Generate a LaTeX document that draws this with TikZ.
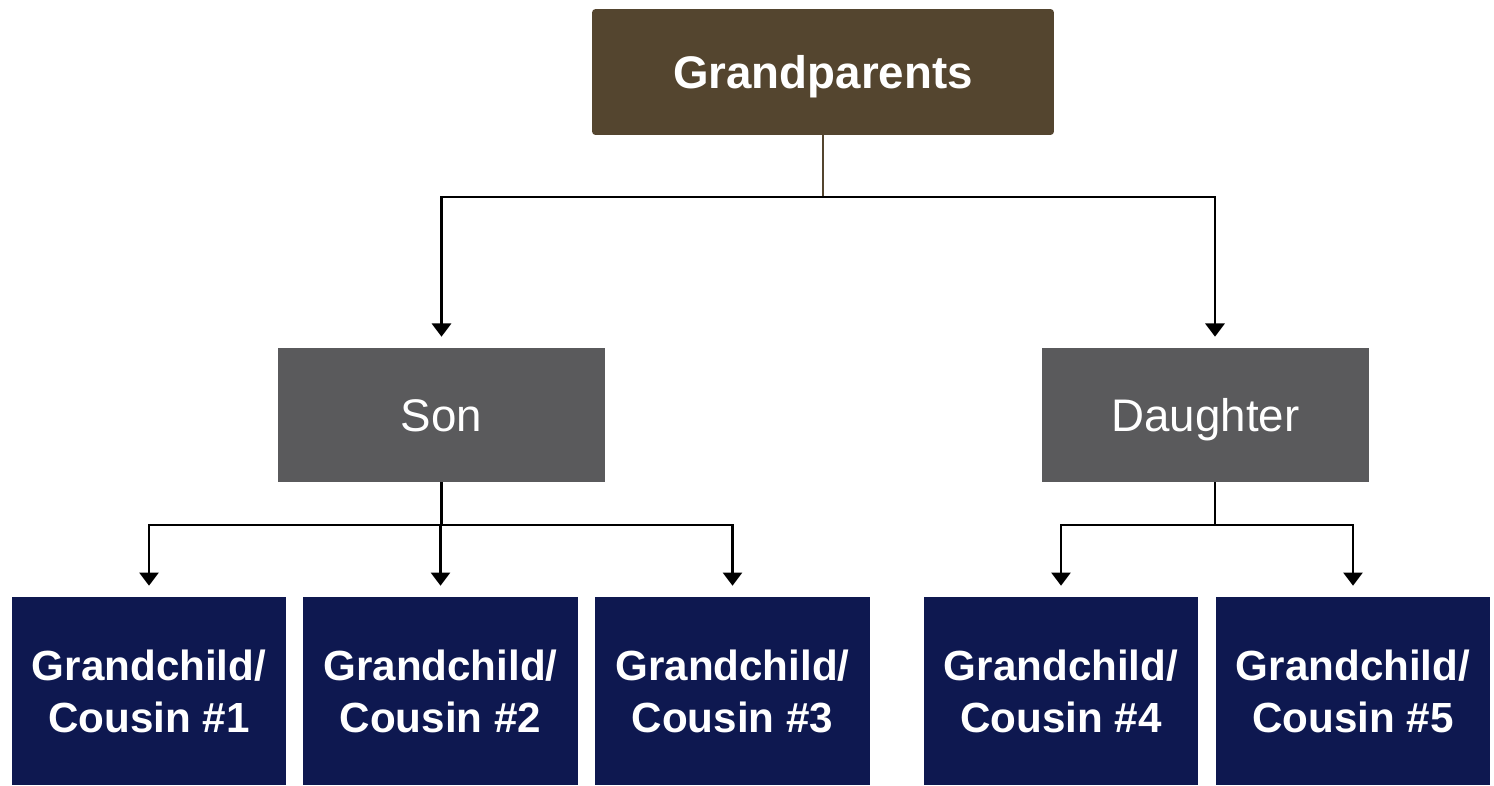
\documentclass[tikz,border=0pt]{standalone}
\usepackage{fontspec}
\setmainfont{Liberation Sans}
\usetikzlibrary{arrows.meta,calc,positioning}

\definecolor{gpbrown}{HTML}{54452F}
\definecolor{parentgray}{HTML}{5A5A5C}
\definecolor{kidnavy}{HTML}{0E1850}

\begin{document}
\begin{tikzpicture}[
      x=0.02cm, y=-0.02cm,
      gen1/.style={
          rectangle,
          rounded corners=2pt,
          fill=gpbrown,
          text=white,
          minimum width=9.24cm,
          minimum height=2.52cm,
          text height=18.7pt,
          text depth=0pt,
          font=\fontsize{26}{30}\selectfont\bfseries
        },
      gen2/.style={
          rectangle,
          fill=parentgray,
          text=white,
          minimum width=6.54cm,
          minimum height=2.68cm,
          text height=18.7pt,
          text depth=0pt,
          font=\fontsize{26}{30}\selectfont
        },
      gen3/.style={
          rectangle,
          fill=kidnavy,
          text=white,
          minimum width=5.5cm,
          minimum height=3.76cm,
          align=center,
          font=\fontsize{24}{29.6}\selectfont\bfseries
        },
      link/.style={line width=1.15pt, black},
      >={Triangle[width=11pt,length=7.5pt]}
    ]
    \useasboundingbox (0,0) rectangle (1494,785);

    % Explicit positions
    \node[gen1] at (823,72)     (gp)  {Grandparents};
    \node[gen2] at (441.5,415)  (son) {Son};
    \node[gen2] at (1205.5,415) (dau) {Daughter};
    \node[gen3] at (149,691)    (c1)  {Grandchild/\\Cousin \#1};
    \node[gen3] at (440.5,691)  (c2)  {Grandchild/\\Cousin \#2};
    \node[gen3] at (732.5,691)  (c3)  {Grandchild/\\Cousin \#3};
    \node[gen3] at (1061,691)   (c4)  {Grandchild/\\Cousin \#4};
    \node[gen3] at (1353,691)   (c5)  {Grandchild/\\Cousin \#5};

    % Grandparents to children
    \draw[line width=1.3pt, gpbrown] (gp.south) -- ++(0,62) coordinate (tophub);
    \draw[link,->,shorten >=0.22cm] (tophub) -| (son.north);
    \draw[link,->,shorten >=0.22cm] (tophub) -| ([xshift=0.19cm]dau.north);

    % Children to grandchildren
    \draw[link] (son.south) -- ++(0,43) coordinate (sonhub);
    \foreach \k in {c1,c2,c3}
      \draw[link,->,shorten >=0.22cm] (sonhub) -| (\k.north);
    \draw[link] ([xshift=0.19cm]dau.south) -- ++(0,43) coordinate (dauhub);
    \foreach \k in {c4,c5}
      \draw[link,->,shorten >=0.22cm] (dauhub) -| (\k.north);
  \end{tikzpicture}
\end{document}
